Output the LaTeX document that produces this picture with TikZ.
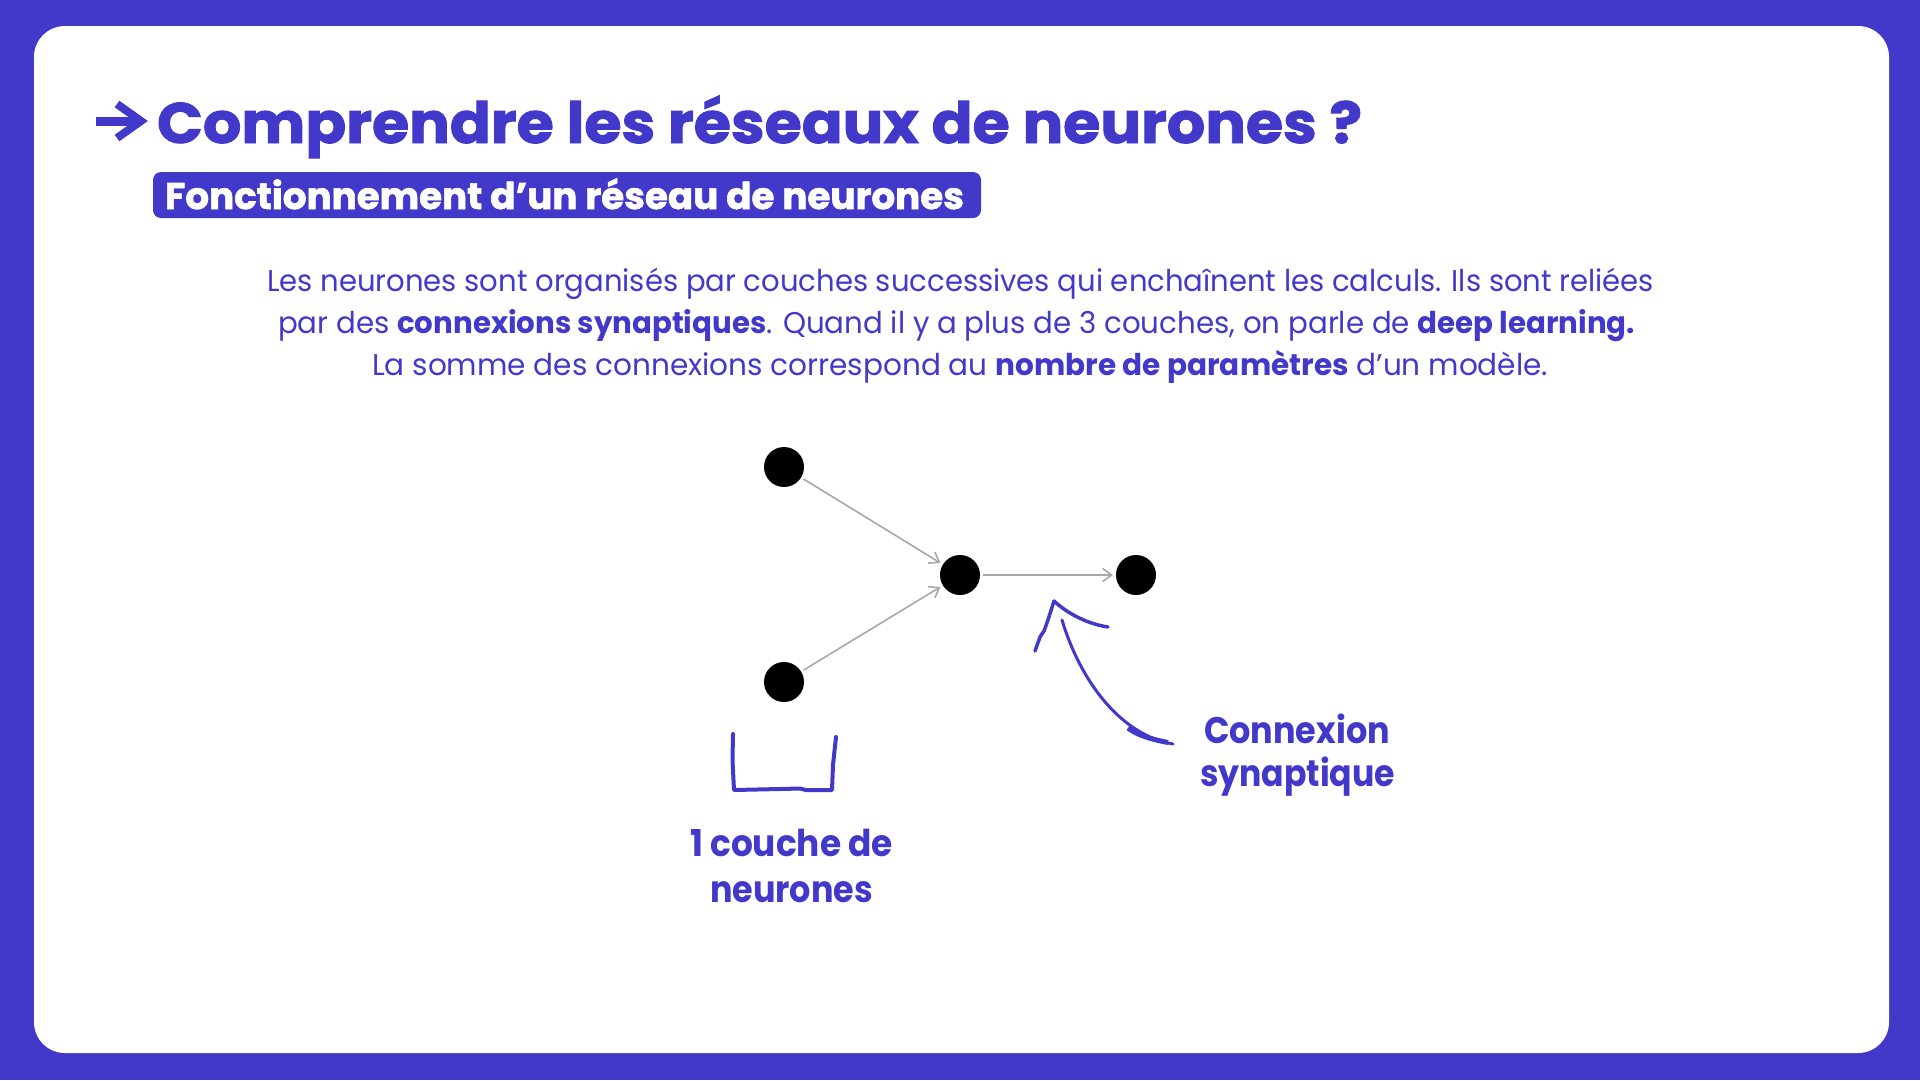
\documentclass[tikz,border=0pt]{standalone}
\usepackage{fontspec}
\setmainfont{Poppins}
\newfontfamily\heavyfont{Poppins}[UprightFont=* Bold, FakeBold=1.6]
\usepackage{graphicx}
\usetikzlibrary{arrows.meta}
\definecolor{brand}{RGB}{66,57,202}
\definecolor{linkgray}{RGB}{168,168,168}
\tikzset{
  neuron/.style={circle, fill=black, minimum size=40pt, inner sep=0pt, outer sep=3pt},
  conn/.style={draw=linkgray, line width=1.6pt, -{Straight Barb[length=9pt,width=13pt,line width=1.6pt]}},
  txt/.style={inner sep=0pt, outer sep=0pt, anchor=base west, text=brand},
  scribble/.style={draw=brand, line width=4pt, line cap=round, line join=round},
}
\newcommand{\fitw}[2]{\resizebox{#1pt}{\height}{#2}}
\begin{document}
\begin{tikzpicture}[x=1pt,y=-1pt]
\useasboundingbox (0,0) rectangle (1920,1080);
\fill[brand] (0,0) rectangle (1920,1080);
\fill[white, rounded corners=31pt] (34,26) rectangle (1889,1053);

% title arrow
\draw[brand, line width=9pt] (96,121) -- (136,121);
\draw[brand, line width=8pt, line join=miter] (117,104) -- (141,121) -- (117,138);
\node[txt] (title) at (157,143) {\fitw{1205}{\fontsize{57}{57}\heavyfont Comprendre les réseaux de neurones ?}};

% subtitle
\fill[brand, rounded corners=8pt] (153,172) rectangle (981,218);
\node[txt, text=white] (subtitle) at (165,209) {\fitw{799}{\fontsize{37}{37}\heavyfont Fonctionnement d’un réseau de neurones}};

% paragraph
\node[txt] (p1) at (267,291) {\fitw{1387}{\fontsize{30}{30}\selectfont Les neurones sont organisés par couches successives qui enchaînent les calculs. Ils sont reliées}};
\node[txt] (p2) at (278,333) {\fitw{1357}{\fontsize{30}{30}\selectfont par des \textbf{connexions synaptiques}. Quand il y a plus de 3 couches, on parle de \textbf{deep learning.}}};
\node[txt] (p3) at (372,375) {\fitw{1176}{\fontsize{30}{30}\selectfont La somme des connexions correspond au \textbf{nombre de paramètres} d’un modèle.}};

% network
\node[neuron] (n1) at (784,467) {};
\node[neuron] (n2) at (960,575) {};
\node[neuron] (n3) at (1136,575) {};
\node[neuron] (n4) at (784,682) {};
\draw[conn] (n1) -- (n2);
\draw[conn] (n4) -- (n2);
\draw[conn] (n2) -- (n3);

% layer bracket
\draw[scribble] (733,734) -- (732.5,760) -- (734,790) -- (780,789) -- (800,788.5) -- (806,790) -- (832,790) -- (833,765) -- (836,737);
\node[txt] (lab1a) at (690,856) {\fitw{203}{\fontsize{37}{37}\selectfont\bfseries 1 couche de}};
\node[txt] (lab1b) at (710,902) {\fitw{163}{\fontsize{37}{37}\selectfont\bfseries neurones}};

% hand-drawn arrow
\draw[scribble, line width=3pt] (1173,744) .. controls (1120,735) and (1080,680) .. (1062,620);
\draw[scribble, line width=5pt, line cap=butt] (1168,742.5) .. controls (1150,739) and (1137,735) .. (1128,728);
\draw[scribble, line width=3.5pt] (1035,651) -- (1040,637) -- (1044,631) .. controls (1048,620) .. (1054,601);
\draw[scribble, line width=3.5pt] (1054,601) .. controls (1068,614) and (1088,624) .. (1108,627);
\node[txt] (lab2a) at (1204,743) {\fitw{186}{\fontsize{37}{37}\selectfont\bfseries Connexion}};
\node[txt] (lab2b) at (1200,786) {\fitw{195}{\fontsize{37}{37}\selectfont\bfseries synaptique}};
\end{tikzpicture}
\end{document}
